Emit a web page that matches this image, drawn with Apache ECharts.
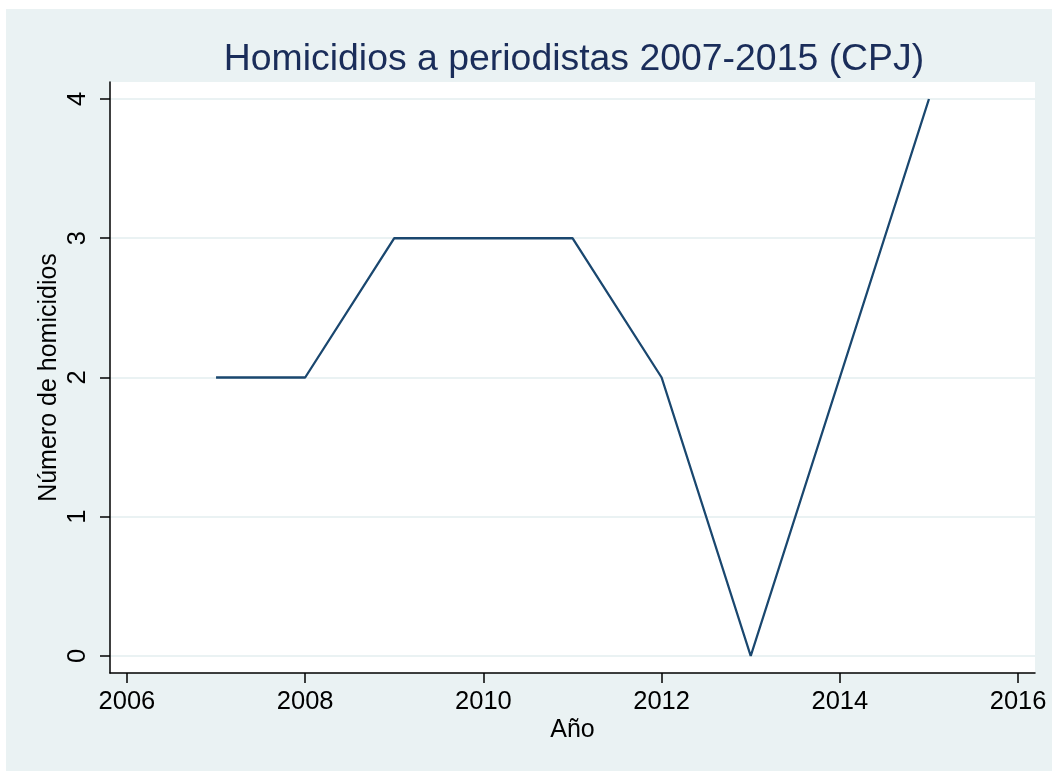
<!DOCTYPE html>
<html>
<head>
<meta charset="utf-8">
<script src="https://cdn.jsdelivr.net/npm/echarts@6/dist/echarts.min.js"></script>
<style>
  html, body { margin: 0; padding: 0; background: #fff; }
  #main { width: 1052px; height: 771px; }
</style>
</head>
<body>
<div id="main"></div>
<script>
// datos CPJ
var years = [2007, 2008, 2009, 2010, 2011, 2012, 2013, 2014, 2015];
var homicidios = [2, 2, 3, 3, 3, 2, 0, 2, 4];
var xTicks = [2006, 2008, 2010, 2012, 2014, 2016];
var yTicks = [0, 1, 2, 3, 4];

var chartDom = document.getElementById('main');
var myChart = echarts.init(chartDom);
var font = 'Liberation Sans, Arial, Helvetica, sans-serif';

var points = [];
for (var i = 0; i < years.length; i++) {
  points.push([years[i], homicidios[i]]);
}

var option = {
  backgroundColor: '#ffffff',
  animation: false,
  graphic: [
    {
      type: 'rect',
      z: -10,
      shape: { x: 6, y: 9, width: 1046, height: 762 },
      style: { fill: '#eaf2f3' }
    }
  ],
  title: {
    text: 'Homicidios a periodistas 2007-2015 (CPJ)',
    left: 569,
    top: 36,
    textAlign: 'center',
    textStyle: {
      color: '#1a2d5a',
      fontFamily: font,
      fontWeight: 'normal',
      fontSize: 37.4
    }
  },
  grid: {
    left: 110,
    right: 17,
    top: 82,
    bottom: 98,
    show: true,
    backgroundColor: '#ffffff',
    borderWidth: 0
  },
  xAxis: {
    type: 'value',
    min: 2005.81,
    max: 2016.19,
    name: 'Año',
    nameLocation: 'middle',
    nameGap: 45,
    nameMoveOverlap: false,
    nameTextStyle: { color: '#000', fontFamily: font, fontSize: 25 },
    axisLine: { show: true, onZero: false, lineStyle: { color: '#000', width: 1.5 } },
    axisTick: { show: true, length: 10, customValues: xTicks, lineStyle: { color: '#000', width: 1.5 } },
    axisLabel: {
      customValues: xTicks,
      formatter: function (v) { return String(v); },
      margin: 16,
      color: '#000',
      fontFamily: font,
      fontSize: 25.5
    },
    splitLine: { show: false }
  },
  yAxis: {
    type: 'value',
    min: -0.122,
    max: 4.122,
    name: 'Número de homicidios',
    nameLocation: 'middle',
    nameRotate: 90,
    nameGap: 48,
    nameMoveOverlap: false,
    nameTextStyle: { color: '#000', fontFamily: font, fontSize: 25 },
    axisLine: { show: true, onZero: false, lineStyle: { color: '#000', width: 1.5 } },
    axisTick: { show: true, length: 10, customValues: yTicks, lineStyle: { color: '#000', width: 1.5 } },
    axisLabel: {
      customValues: yTicks,
      rotate: 90,
      margin: 19,
      color: '#000',
      fontFamily: font,
      fontSize: 25.5
    },
    splitLine: { show: true, lineStyle: { color: '#eaf2f3', width: 2 } }
  },
  series: [
    {
      type: 'line',
      data: points,
      symbol: 'none',
      lineStyle: { color: '#1a476f', width: 2.3 }
    }
  ]
};

option && myChart.setOption(option);
</script>
</body>
</html>
